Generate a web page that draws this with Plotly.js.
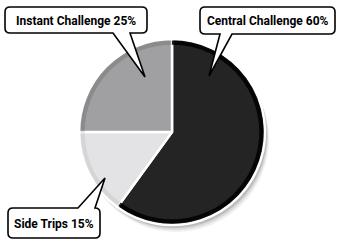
<!DOCTYPE html>
<html><head><meta charset="utf-8">
<script src="https://cdn.plot.ly/plotly-3.0.1.min.js"></script>
<style>html,body{margin:0;padding:0;background:#fff}#c{width:337px;height:241px}</style>
</head><body><div id="c"></div>
<script>
const labels = ["Central Challenge", "Side Trips", "Instant Challenge"];
const values = [60, 15, 25];
const sliceColors = ["#242424", "#e3e3e5", "#a0a0a2"];
const rimShade = ["rgba(0,0,0,0.85)", "rgba(0,0,0,0.06)", "rgba(0,0,0,0.13)"];

const W = 337, H = 241;
const cx = 172, cy = 132, R = 93;
const px = x => x / W, py = y => 1 - y / H;
const dom = r => ({x: [px(cx - r), px(cx + r)], y: [py(cy + r), py(cy - r)]});

const traces = [
  {type: "pie", labels: labels, values: values, sort: false, direction: "clockwise", rotation: 0,
   marker: {colors: sliceColors, line: {color: "#ffffff", width: 2.5}},
   textinfo: "none", hoverinfo: "label+percent", showlegend: false, domain: dom(R)},
  {type: "pie", labels: labels, values: values, sort: false, direction: "clockwise", rotation: 0,
   hole: 0.955, marker: {colors: rimShade, line: {width: 0}},
   textinfo: "none", hoverinfo: "skip", showlegend: false, domain: dom(R - 1.6)}
];

function callout(x0, y0, x1, y1, r, side, b1, b2, tx, ty) {
  const P = (x, y) => px(x).toFixed(5) + "," + py(y).toFixed(5);
  let d = "M" + P(x0 + r, y0);
  if (side === "top") d += " L" + P(b1, y0) + " L" + P(tx, ty) + " L" + P(b2, y0);
  d += " L" + P(x1 - r, y0) + " Q" + P(x1, y0) + " " + P(x1, y0 + r);
  d += " L" + P(x1, y1 - r) + " Q" + P(x1, y1) + " " + P(x1 - r, y1);
  if (side === "bottom") d += " L" + P(b2, y1) + " L" + P(tx, ty) + " L" + P(b1, y1);
  d += " L" + P(x0 + r, y1) + " Q" + P(x0, y1) + " " + P(x0, y1 - r);
  d += " L" + P(x0, y0 + r) + " Q" + P(x0, y0) + " " + P(x0 + r, y0) + " Z";
  return {type: "path", xref: "paper", yref: "paper", path: d, layer: "above",
          fillcolor: "#ffffff", line: {color: "#000000", width: 1.6}};
}

const shapes = [];
[[2, 3, 0.14], [3, 5, 0.09], [4, 7, 0.06]].forEach(([dx, dy, op]) => {
  shapes.push({type: "circle", xref: "paper", yref: "paper", layer: "below",
    x0: px(cx - R + dx), x1: px(cx + R + dx), y0: py(cy + R + dy), y1: py(cy - R + dy),
    fillcolor: "rgba(0,0,0," + op + ")", line: {width: 0}});
});
shapes.push(callout(5, 7, 147, 33, 5, "bottom", 113, 130, 145, 77));
shapes.push(callout(200, 7, 335, 34, 5, "bottom", 220, 232, 209, 76));
shapes.push(callout(8, 208, 100, 238, 5, "top", 78, 95, 105, 178));

const font = {family: "Roboto, 'Liberation Sans', sans-serif", size: 12, weight: 700, color: "#000"};
const txt = i => labels[i] + " " + values[i] + "%";
const annotations = [
  {x: px(76), y: py(20.5), text: txt(2)},
  {x: px(267.5), y: py(21), text: txt(0)},
  {x: px(54), y: py(223.5), text: txt(1)}
].map(a => Object.assign(a, {xref: "paper", yref: "paper", showarrow: false,
  xanchor: "center", yanchor: "middle", font: font}));

Plotly.newPlot("c", traces, {
  width: W, height: H, margin: {l: 0, r: 0, t: 0, b: 0},
  paper_bgcolor: "#ffffff", plot_bgcolor: "#ffffff",
  shapes: shapes, annotations: annotations, showlegend: false
}, {displayModeBar: false, staticPlot: true});
</script></body></html>
